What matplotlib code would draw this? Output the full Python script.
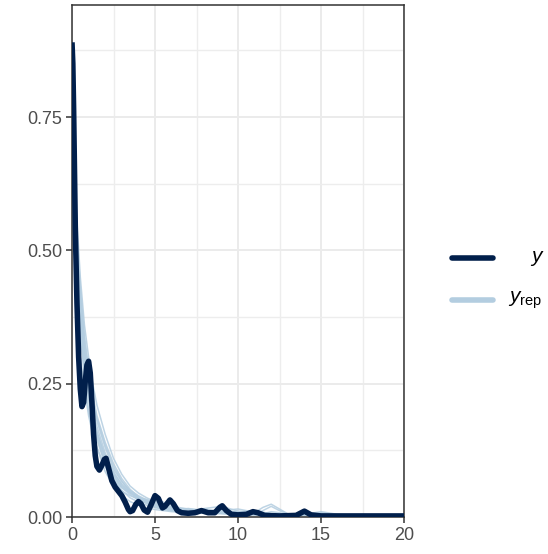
import numpy as np
import matplotlib
matplotlib.use('Agg')
import matplotlib.pyplot as plt
from matplotlib.lines import Line2D

plt.rcParams['font.family'] = ['Liberation Sans', 'DejaVu Sans']
plt.rcParams['mathtext.fontset'] = 'custom'
plt.rcParams['mathtext.rm'] = 'Liberation Sans'
plt.rcParams['mathtext.it'] = 'Liberation Sans:italic'

DARK = '#011f4b'
LIGHT = '#b3cde0'

# observed density (y)
y_x = [0.0, 0.05, 0.1, 0.15, 0.2, 0.3, 0.4, 0.5, 0.6, 0.7, 0.8, 0.9, 1.0, 1.1, 1.2,
       1.3, 1.4, 1.5, 1.65, 1.8, 1.95, 2.05, 2.2, 2.4, 2.6, 2.8, 3.0, 3.2, 3.4, 3.5,
       3.65, 3.85, 4.0, 4.15, 4.35, 4.55, 4.75, 5.0, 5.2, 5.45, 5.6, 5.9, 6.1, 6.35,
       6.6, 7.0, 7.4, 7.8, 8.2, 8.6, 8.9, 9.05, 9.3, 9.6, 10.0, 10.5, 10.9, 11.2,
       11.6, 12.5, 13.5, 14.0, 14.4, 15.0, 16.0, 20.0]
y_dens = [0.89, 0.85, 0.76, 0.65, 0.54, 0.40, 0.30, 0.24, 0.207, 0.215, 0.255, 0.285,
          0.292, 0.27, 0.215, 0.155, 0.115, 0.095, 0.088, 0.097, 0.108, 0.11, 0.092,
          0.068, 0.056, 0.048, 0.040, 0.028, 0.014, 0.010, 0.012, 0.024, 0.029, 0.025,
          0.013, 0.009, 0.022, 0.040, 0.035, 0.017, 0.020, 0.032, 0.025, 0.012, 0.008,
          0.007, 0.008, 0.012, 0.008, 0.008, 0.018, 0.021, 0.012, 0.005, 0.004, 0.005,
          0.010, 0.008, 0.003, 0.002, 0.003, 0.011, 0.004, 0.002, 0.002, 0.002]

# replicated densities (yrep)
rep_x = [0, 0.25, 0.5, 0.75, 1, 1.25, 1.5, 2, 2.5, 3, 3.5, 4, 4.5, 5, 5.5, 6, 7, 8, 9,
         10, 11, 11.5, 12, 12.5, 13, 14, 15, 16, 18, 20]
rep_1 = [0.80, 0.42, 0.30, 0.24, 0.19, 0.155, 0.13, 0.095, 0.07, 0.05, 0.036, 0.028, 0.022,
         0.018, 0.015, 0.013, 0.010, 0.008, 0.007, 0.006, 0.005, 0.005, 0.004, 0.004, 0.004,
         0.003, 0.003, 0.003, 0.002, 0.002]
rep_2 = [0.72, 0.52, 0.36, 0.26, 0.20, 0.16, 0.13, 0.085, 0.058, 0.040, 0.029, 0.022, 0.017,
         0.014, 0.012, 0.010, 0.008, 0.007, 0.006, 0.005, 0.004, 0.004, 0.004, 0.003, 0.003,
         0.003, 0.003, 0.002, 0.002, 0.002]
rep_3 = [0.75, 0.58, 0.45, 0.36, 0.30, 0.25, 0.21, 0.155, 0.11, 0.08, 0.058, 0.045, 0.036,
         0.029, 0.024, 0.020, 0.015, 0.012, 0.010, 0.008, 0.007, 0.006, 0.006, 0.005, 0.005,
         0.004, 0.004, 0.003, 0.003, 0.002]
rep_4 = [0.68, 0.50, 0.39, 0.31, 0.25, 0.20, 0.17, 0.12, 0.085, 0.060, 0.045, 0.035, 0.030,
         0.024, 0.018, 0.014, 0.012, 0.015, 0.010, 0.006, 0.008, 0.018, 0.024, 0.015, 0.006,
         0.004, 0.003, 0.003, 0.002, 0.002]
rep_5 = [0.82, 0.55, 0.40, 0.30, 0.24, 0.19, 0.16, 0.11, 0.08, 0.055, 0.042, 0.032, 0.028,
         0.022, 0.016, 0.012, 0.009, 0.010, 0.014, 0.008, 0.005, 0.006, 0.010, 0.008, 0.004,
         0.004, 0.008, 0.004, 0.002, 0.002]
rep_6 = [0.65, 0.48, 0.37, 0.29, 0.23, 0.18, 0.15, 0.10, 0.072, 0.055, 0.045, 0.038, 0.030,
         0.024, 0.020, 0.015, 0.011, 0.009, 0.008, 0.007, 0.006, 0.005, 0.005, 0.004, 0.004,
         0.004, 0.003, 0.003, 0.002, 0.002]
rep_7 = [0.78, 0.50, 0.34, 0.27, 0.22, 0.18, 0.145, 0.098, 0.068, 0.048, 0.040, 0.034, 0.025,
         0.018, 0.014, 0.012, 0.016, 0.012, 0.007, 0.005, 0.004, 0.004, 0.004, 0.003, 0.003,
         0.003, 0.003, 0.002, 0.002, 0.002]
rep_8 = [0.70, 0.53, 0.41, 0.32, 0.26, 0.21, 0.18, 0.13, 0.09, 0.066, 0.05, 0.04, 0.032,
         0.026, 0.02, 0.017, 0.013, 0.011, 0.009, 0.010, 0.012, 0.009, 0.006, 0.005, 0.004,
         0.004, 0.006, 0.003, 0.002, 0.002]
rep_9 = [0.74, 0.56, 0.43, 0.34, 0.28, 0.23, 0.19, 0.14, 0.10, 0.072, 0.052, 0.038, 0.029,
         0.022, 0.017, 0.014, 0.011, 0.016, 0.020, 0.011, 0.006, 0.005, 0.004, 0.004, 0.004,
         0.003, 0.003, 0.003, 0.002, 0.002]
rep_10 = [0.77, 0.47, 0.35, 0.28, 0.23, 0.19, 0.16, 0.115, 0.082, 0.062, 0.048, 0.036, 0.027,
          0.020, 0.016, 0.013, 0.010, 0.008, 0.012, 0.015, 0.009, 0.005, 0.004, 0.004, 0.004,
          0.005, 0.010, 0.005, 0.002, 0.002]
rep_11 = [0.69, 0.54, 0.42, 0.33, 0.27, 0.22, 0.185, 0.135, 0.095, 0.068, 0.047, 0.033, 0.026,
          0.030, 0.028, 0.018, 0.012, 0.009, 0.007, 0.006, 0.005, 0.012, 0.020, 0.012, 0.005,
          0.004, 0.003, 0.003, 0.002, 0.002]
rep_12 = [0.81, 0.49, 0.38, 0.30, 0.245, 0.195, 0.155, 0.105, 0.076, 0.058, 0.046, 0.036, 0.033,
          0.028, 0.021, 0.015, 0.010, 0.013, 0.009, 0.006, 0.005, 0.004, 0.004, 0.004, 0.004,
          0.003, 0.003, 0.003, 0.002, 0.002]
reps = [rep_1, rep_2, rep_3, rep_4, rep_5, rep_6, rep_7, rep_8, rep_9, rep_10, rep_11, rep_12]

x_ticks = [0, 5, 10, 15, 20]
y_ticks = [0.00, 0.25, 0.50, 0.75]

fig = plt.figure(figsize=(5.48, 5.54), dpi=100)
ax = fig.add_axes([72 / 548, 1 - 517 / 554, 332 / 548, 512 / 554])

for r in reps:
    ax.plot(rep_x, r, color=LIGHT, lw=1.1, alpha=0.85, solid_joinstyle='round', zorder=2)
ax.plot(y_x, y_dens, color=DARK, lw=4.0, solid_capstyle='butt', solid_joinstyle='round', zorder=3)

ax.set_xlim(0, 20)
ax.set_ylim(0, 0.96)
ax.set_xticks(x_ticks)
ax.set_xticklabels([str(t) for t in x_ticks])
ax.set_yticks(y_ticks)
ax.set_yticklabels(['%.2f' % t for t in y_ticks])
ax.set_xticks([2.5, 7.5, 12.5, 17.5], minor=True)
ax.set_yticks([0.125, 0.375, 0.625, 0.875], minor=True)
ax.grid(which='major', color='#ebebeb', lw=1.4, zorder=0)
ax.grid(which='minor', color='#ededed', lw=1.0, zorder=0)
ax.set_axisbelow(True)
ax.tick_params(which='major', length=4, width=1.1, color='#333333',
               labelsize=13, labelcolor='#4d4d4d', pad=3)
ax.tick_params(which='minor', length=0)
for s in ax.spines.values():
    s.set_color('#333333')
    s.set_linewidth(1.1)

# legend
fig.add_artist(Line2D([452 / 548, 493 / 548], [1 - 258 / 554] * 2, transform=fig.transFigure,
                      color=DARK, lw=4.0, solid_capstyle='round'))
fig.add_artist(Line2D([452 / 548, 493 / 548], [1 - 300 / 554] * 2, transform=fig.transFigure,
                      color=LIGHT, lw=4.0, solid_capstyle='round'))
fig.text(530 / 548, 1 - 258 / 554, r'$y$', fontsize=15, va='center', ha='left', color='black')
fig.text(508 / 548, 1 - 300 / 554, r'$y_{\mathrm{rep}}$', fontsize=15, va='center', ha='left',
         color='black')

fig.savefig('out.png', dpi=100)
